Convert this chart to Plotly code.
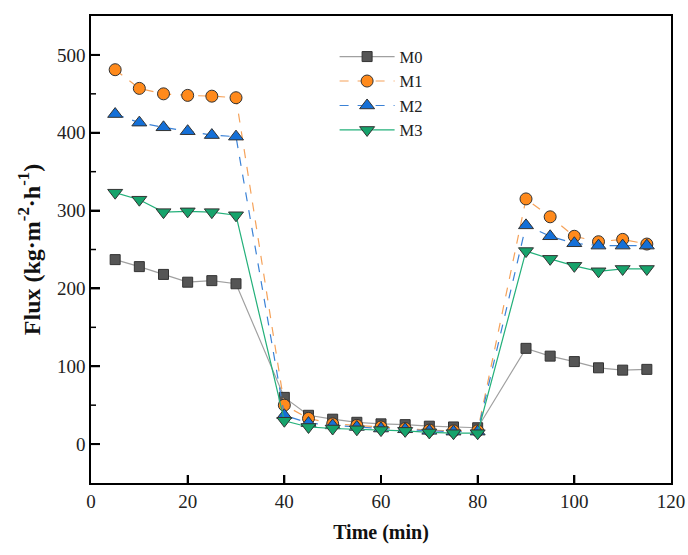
import plotly.graph_objects as go

time = [5, 10, 15, 20, 25, 30, 40, 45, 50, 55, 60, 65, 70, 75, 80, 90, 95, 100, 105, 110, 115]
m0 = [237, 228, 218, 208, 210, 206, 60, 37, 32, 28, 26, 25, 23, 22, 21, 123, 113, 106, 98, 95, 96]
m1 = [481, 457, 450, 448, 447, 445, 50, 33, 26, 24, 22, 20, 18, 17, 17, 315, 292, 267, 260, 263, 257]
m2 = [424, 413, 407, 402, 397, 395, 37, 27, 24, 22, 20, 19, 17, 16, 16, 281, 267, 258, 255, 255, 255]
m3 = [323, 314, 298, 299, 298, 294, 30, 22, 20, 19, 18, 17, 15, 14, 14, 248, 238, 229, 222, 225, 225]
x_ticks = [0, 20, 40, 60, 80, 100, 120]
y_ticks = [0, 100, 200, 300, 400, 500]
y_minor = [50, 150, 250, 350, 450]
X_RANGE = [0, 120]
Y_RANGE = [-50, 550]

series = [
    ("M0", m0, "#a0a0a0", "#555555", "square", "solid", 10),
    ("M1", m1, "#f5a25a", "#ff8a1c", "circle", "dash", 12),
    ("M2", m2, "#3b82d6", "#1570d8", "triangle-up", "dash", 13),
    ("M3", m3, "#23b07a", "#16a36b", "triangle-down", "solid", 13),
]

W, H = 688, 555
ML, MR, MT, MB = 91, 17, 16, 72
px_x = (X_RANGE[1] - X_RANGE[0]) / (W - ML - MR)
px_y = (Y_RANGE[1] - Y_RANGE[0]) / (H - MT - MB)

fig = go.Figure()
for name, vals, lc, mc, sym, dash, sz in series:
    fig.add_trace(go.Scatter(
        x=time, y=vals, name=name, mode="lines+markers",
        line=dict(color=lc, width=1.2, dash=dash),
        marker=dict(symbol=sym, size=sz, color=mc, line=dict(color="#333333", width=1)),
    ))

# inside tick marks, built from the tick lists
tx, ty = [], []
for t in x_ticks[1:-1]:
    tx += [t, t, None]
    ty += [Y_RANGE[0], Y_RANGE[0] + 8 * px_y, None]
for t in y_ticks:
    tx += [X_RANGE[0], X_RANGE[0] + 9 * px_x, None]
    ty += [t, t, None]
fig.add_trace(go.Scatter(x=tx, y=ty, mode="lines", line=dict(color="black", width=2),
                         showlegend=False, hoverinfo="skip", cliponaxis=False))
mx, my = [], []
for t in y_minor:
    mx += [X_RANGE[0], X_RANGE[0] + 5 * px_x, None]
    my += [t, t, None]
fig.add_trace(go.Scatter(x=mx, y=my, mode="lines", line=dict(color="black", width=1.5),
                         showlegend=False, hoverinfo="skip", cliponaxis=False))

font = "Liberation Serif, Times New Roman, serif"
fig.update_layout(
    width=W, height=H,
    margin=dict(l=ML, r=MR, t=MT, b=MB, autoexpand=False),
    paper_bgcolor="white", plot_bgcolor="white",
    font=dict(family=font, size=18, color="#222222"),
    showlegend=True,
    legend=dict(x=0.42, y=0.95, xanchor="left", yanchor="top",
                bgcolor="rgba(0,0,0,0)", borderwidth=0, font=dict(size=16.5, family=font, color="#222222"),
                tracegroupgap=0, itemwidth=55),
)
fig.update_xaxes(
    range=X_RANGE, tickmode="array", tickvals=x_ticks,
    ticks="inside", ticklen=8, tickwidth=2, tickcolor="black",
    showline=True, linecolor="black", linewidth=1.5, mirror=True,
    showgrid=False, zeroline=False, automargin=False,
    tickfont=dict(size=19, family=font, color="#222222"),
    title=dict(text="<b>Time (min)</b>", font=dict(size=20, family=font, color="#111111"), standoff=14),
)
fig.update_yaxes(
    range=Y_RANGE, tickmode="array", tickvals=y_ticks,
    ticks="inside", ticklen=9, tickwidth=2, tickcolor="black",
    showline=True, linecolor="black", linewidth=1.5, mirror=True,
    showgrid=False, zeroline=False, automargin=False,
    tickfont=dict(size=19, family=font, color="#222222"),
    title=dict(text="<b>Flux (kg·m<sup>-2</sup>·h<sup>-1</sup>)</b>", font=dict(size=24, family=font, color="#111111"), standoff=10),
)
fig.write_html("out.html", config={"displayModeBar": False},
               post_script="document.body.style.margin='0';document.body.style.padding='0';")
